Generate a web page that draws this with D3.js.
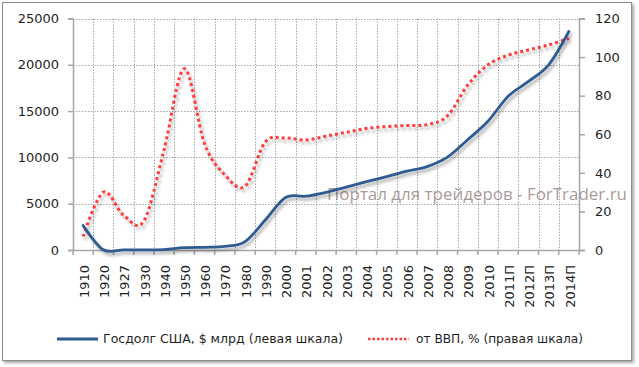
<!DOCTYPE html>
<html><head><meta charset="utf-8">
<script src="https://cdn.jsdelivr.net/npm/d3@7/dist/d3.min.js"></script>
<style>body{margin:0;background:#fff;} svg{display:block;}</style>
</head><body>
<svg id="c" width="639" height="367"></svg>
<script>
const categories = ["1910","1920","1927","1930","1940","1950","1960","1970","1980","1990","2000","2001","2002","2003","2004","2005","2006","2007","2008","2009","2010","2011П","2012П","2013П","2014П"];
const debtValues = [2650, 26, 18, 16, 51, 257, 291, 381, 909, 3233, 5674, 5807, 6228, 6783, 7379, 7933, 8507, 9008, 10025, 11910, 13900, 16600, 18200, 20000, 23600];
const gdpValues = [7, 30, 18, 15, 52, 94, 55, 39, 33, 56, 58, 57, 59, 61, 63, 64, 64.5, 65, 69.5, 85.5, 96, 101, 103.7, 106.3, 109.7];
const leftTicks = [0, 5000, 10000, 15000, 20000, 25000];
const rightTicks = [0, 20, 40, 60, 80, 100, 120];
const seriesNames = ["Госдолг США, $ млрд (левая шкала)", "от ВВП, % (правая шкала)"];
const watermark = "Портал для трейдеров - ForTrader.ru";

const svg = d3.select("#c");
const L = 73, R = 579, T = 18.5, B = 250;
const defs = svg.append("defs");
const f1 = defs.append("filter").attr("id","sh").attr("x","-10%").attr("y","-10%").attr("width","130%").attr("height","140%");
f1.append("feDropShadow").attr("dx",2).attr("dy",3).attr("stdDeviation",1.8).attr("flood-color","#000").attr("flood-opacity",0.3);
const f2 = defs.append("filter").attr("id","bsh").attr("x","-5%").attr("y","-5%").attr("width","110%").attr("height","110%");
f2.append("feDropShadow").attr("dx",2).attr("dy",2).attr("stdDeviation",1.5).attr("flood-color","#000").attr("flood-opacity",0.35);

// outer border
svg.append("rect").attr("x",2.5).attr("y",2.5).attr("width",629).attr("height",358)
  .attr("fill","#fff").attr("stroke","#8c8c8c").attr("stroke-width",1).attr("filter","url(#bsh)");

const x = d3.scaleBand().domain(categories).range([L, R]);
const yL = d3.scaleLinear().domain([0, 25000]).range([B, T]);
const yR = d3.scaleLinear().domain([0, 120]).range([B, T]);

// gridlines
const grid = svg.append("g").attr("stroke","#a6a6a6").attr("stroke-width",1).attr("stroke-dasharray","1.5,1.5");
leftTicks.filter(d=>d>0).forEach(d=>{
  grid.append("line").attr("x1",L).attr("x2",R).attr("y1",Math.round(yL(d))+0.5).attr("y2",Math.round(yL(d))+0.5);
});
categories.forEach((c,i)=>{
  if(i===0) return;
  const xx = Math.round(x(c))+0.5;
  grid.append("line").attr("x1",xx).attr("x2",xx).attr("y1",T).attr("y2",B);
});

// axes
const axisColor = "#a6a6a6";
const font = "DejaVu Sans, Verdana, sans-serif";
const gL = svg.append("g").attr("transform",`translate(${L},0)`)
  .call(d3.axisLeft(yL).tickValues(leftTicks).tickSize(5).tickPadding(9).tickFormat(d3.format("d")));
const gR = svg.append("g").attr("transform",`translate(${R},0)`)
  .call(d3.axisRight(yR).tickValues(rightTicks).tickSize(6).tickPadding(10).tickFormat(d3.format("d")));
const gB = svg.append("g").attr("transform",`translate(0,${B})`)
  .call(d3.axisBottom(x).tickSize(0).tickFormat(""));
[gL,gR,gB].forEach(g=>{
  g.select(".domain").attr("stroke",axisColor).attr("stroke-width",1.5);
  g.selectAll(".tick line").attr("stroke",axisColor).attr("stroke-width",1.5);
  g.selectAll("text").attr("font-family",font).attr("font-size",13).attr("fill","#1f1f1f");
});
// bottom tick marks at category boundaries
const tb = svg.append("g").attr("stroke",axisColor).attr("stroke-width",1.5);
categories.concat(["__end"]).forEach((c,i)=>{
  const xx = i<categories.length ? x(c) : R;
  tb.append("line").attr("x1",xx).attr("x2",xx).attr("y1",B).attr("y2",B+5);
});
// rotated category labels
const lab = svg.append("g");
categories.forEach(c=>{
  const cx = x(c)+x.bandwidth()/2+1;
  lab.append("text").attr("transform",`translate(${cx},265) rotate(-90)`)
    .attr("text-anchor","end").attr("dy","0.36em")
    .attr("font-family",font).attr("font-size",13).attr("fill","#1f1f1f").text(c);
});

// watermark
svg.append("text").attr("x",327).attr("y",200).attr("font-family","Open Sans, DejaVu Sans, sans-serif")
  .attr("font-size",16).attr("fill","#9a8585").attr("fill-opacity",0.85)
  .attr("textLength",300).attr("lengthAdjust","spacingAndGlyphs").text(watermark);

// lines
const curve = d3.curveCardinal.tension(0);
const lineL = d3.line().x((d,i)=>x(categories[i])+x.bandwidth()/2).y(d=>yL(d)).curve(curve);
const lineR = d3.line().x((d,i)=>x(categories[i])+x.bandwidth()/2).y(d=>yR(d)).curve(curve);
svg.append("path").attr("d",lineR(gdpValues)).attr("fill","none").attr("stroke","#ff3b3b")
  .attr("stroke-width",3).attr("stroke-dasharray","3,3").attr("filter","url(#sh)");
svg.append("path").attr("d",lineL(debtValues)).attr("fill","none").attr("stroke","#2e5b91")
  .attr("stroke-width",2.8).attr("stroke-linecap","round").attr("filter","url(#sh)");

// legend
const lg = svg.append("g");
lg.append("line").attr("x1",57).attr("x2",98).attr("y1",339).attr("y2",339).attr("stroke","#2e5b91").attr("stroke-width",2.8);
lg.append("text").attr("x",103).attr("y",343).attr("font-family",font).attr("font-size",12).attr("fill","#1f1f1f")
  .attr("textLength",240).attr("lengthAdjust","spacingAndGlyphs").text(seriesNames[0]);
lg.append("line").attr("x1",368).attr("x2",409).attr("y1",339).attr("y2",339).attr("stroke","#ff3b3b").attr("stroke-width",2.5).attr("stroke-dasharray","2.5,2");
lg.append("text").attr("x",416).attr("y",343).attr("font-family",font).attr("font-size",12).attr("fill","#1f1f1f")
  .attr("textLength",167).attr("lengthAdjust","spacingAndGlyphs").text(seriesNames[1]);
</script>
</body></html>
